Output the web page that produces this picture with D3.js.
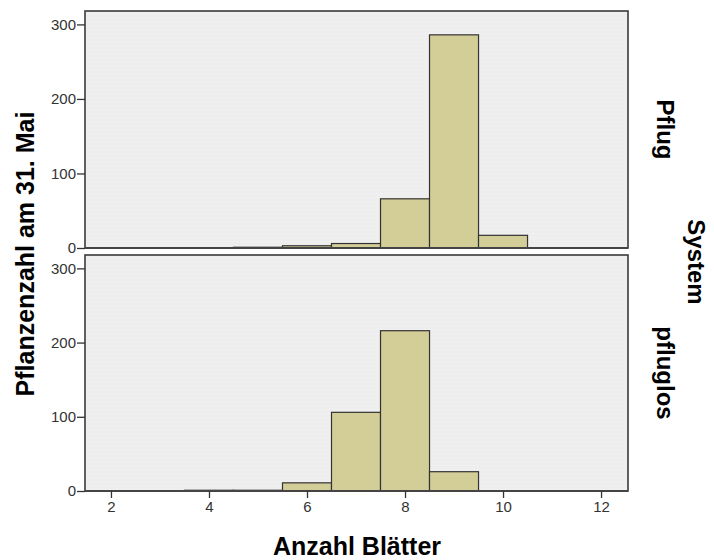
<!DOCTYPE html>
<html><head><meta charset="utf-8">
<script src="https://cdn.jsdelivr.net/npm/d3@7"></script>
<style>body{margin:0;background:#fff}svg{display:block}</style>
</head><body>
<svg id="c" width="714" height="560"></svg>
<script>
const binCenters = [2,3,4,5,6,7,8,9,10,11,12];
const pflugCounts =    [0,0,0,1,3,6,66,286,17,0,0];
const pfluglosCounts = [0,0,1,1,11,106,216,26,0,0,0];
const panels = ["Pflug","pfluglos"];
const xTicks = [2,4,6,8,10,12];
const yTicks = [0,100,200,300];
const xTitle = "Anzahl Blätter";
const yTitle = "Pflanzenzahl am 31. Mai";
const stripTitle = "System";

const svg = d3.select("#c");
const left = 85, right = 628;
const panelBox = [{top:11,bottom:248},{top:255,bottom:491}];
const x = d3.scaleLinear().domain([1.47,12.55]).range([left,right]);
const font = "Arial, 'Liberation Sans', sans-serif";

const defs = svg.append("defs");
const pat = defs.append("pattern").attr("id","dots").attr("width",4).attr("height",4).attr("patternUnits","userSpaceOnUse");
pat.append("rect").attr("width",4).attr("height",4).attr("fill","#eeeeee");
pat.append("rect").attr("x",1).attr("y",1).attr("width",1).attr("height",1).attr("fill","#f7f7f7");

const data = [pflugCounts, pfluglosCounts];
panels.forEach((name,i)=>{
  const pb = panelBox[i];
  const y = d3.scaleLinear().domain([0,318]).range([pb.bottom,pb.top]);
  const g = svg.append("g");
  g.append("rect").attr("x",left).attr("y",pb.top).attr("width",right-left).attr("height",pb.bottom-pb.top)
    .attr("fill","url(#dots)").attr("stroke","#3a3a3a").attr("stroke-width",1.6);
  g.selectAll("rect.bar").data(binCenters.map((c,j)=>({c,v:data[i][j]})).filter(d=>d.v>0))
    .join("rect").attr("class","bar")
    .attr("x",d=>x(d.c-0.5)).attr("width",d=>x(d.c+0.5)-x(d.c-0.5))
    .attr("y",d=>y(d.v)).attr("height",d=>y(0)-y(d.v))
    .attr("fill","#d3ce98").attr("stroke","#333").attr("stroke-width",1.2);
  g.append("line").attr("x1",left).attr("x2",right).attr("y1",y(0)).attr("y2",y(0)).attr("stroke","#444").attr("stroke-width",2);
  const ya = d3.axisLeft(y).tickValues(yTicks).tickSize(8).tickPadding(1);
  const ag = g.append("g").attr("transform",`translate(${left},0)`).call(ya);
  ag.select(".domain").remove();
  ag.selectAll("line").attr("stroke","#333").attr("stroke-width",1.3);
  ag.selectAll("text").attr("font-family",font).attr("font-size",15).attr("fill","#333");
  svg.append("text").attr("transform",`translate(657,${(pb.top+pb.bottom)/2}) rotate(90)`)
    .attr("text-anchor","middle")
    .attr("font-family",font).attr("font-weight","bold").attr("font-size",24).text(name);
});

const xa = d3.axisBottom(x).tickValues(xTicks).tickSize(7).tickPadding(3);
const xg = svg.append("g").attr("transform",`translate(0,${panelBox[1].bottom})`).call(xa);
xg.select(".domain").remove();
xg.selectAll("line").attr("stroke","#333").attr("stroke-width",1.3);
xg.selectAll("text").attr("font-family",font).attr("font-size",15).attr("fill","#333");

svg.append("text").attr("x",357).attr("y",555).attr("text-anchor","middle")
  .attr("font-family",font).attr("font-weight","bold").attr("font-size",25).text(xTitle);
svg.append("text").attr("transform","translate(34,254) rotate(-90)").attr("text-anchor","middle")
  .attr("font-family",font).attr("font-weight","bold").attr("font-size",25).text(yTitle);
svg.append("text").attr("transform","translate(688,262) rotate(90)").attr("text-anchor","middle")
  .attr("font-family",font).attr("font-weight","bold").attr("font-size",24).text(stripTitle);
</script>
</body></html>
